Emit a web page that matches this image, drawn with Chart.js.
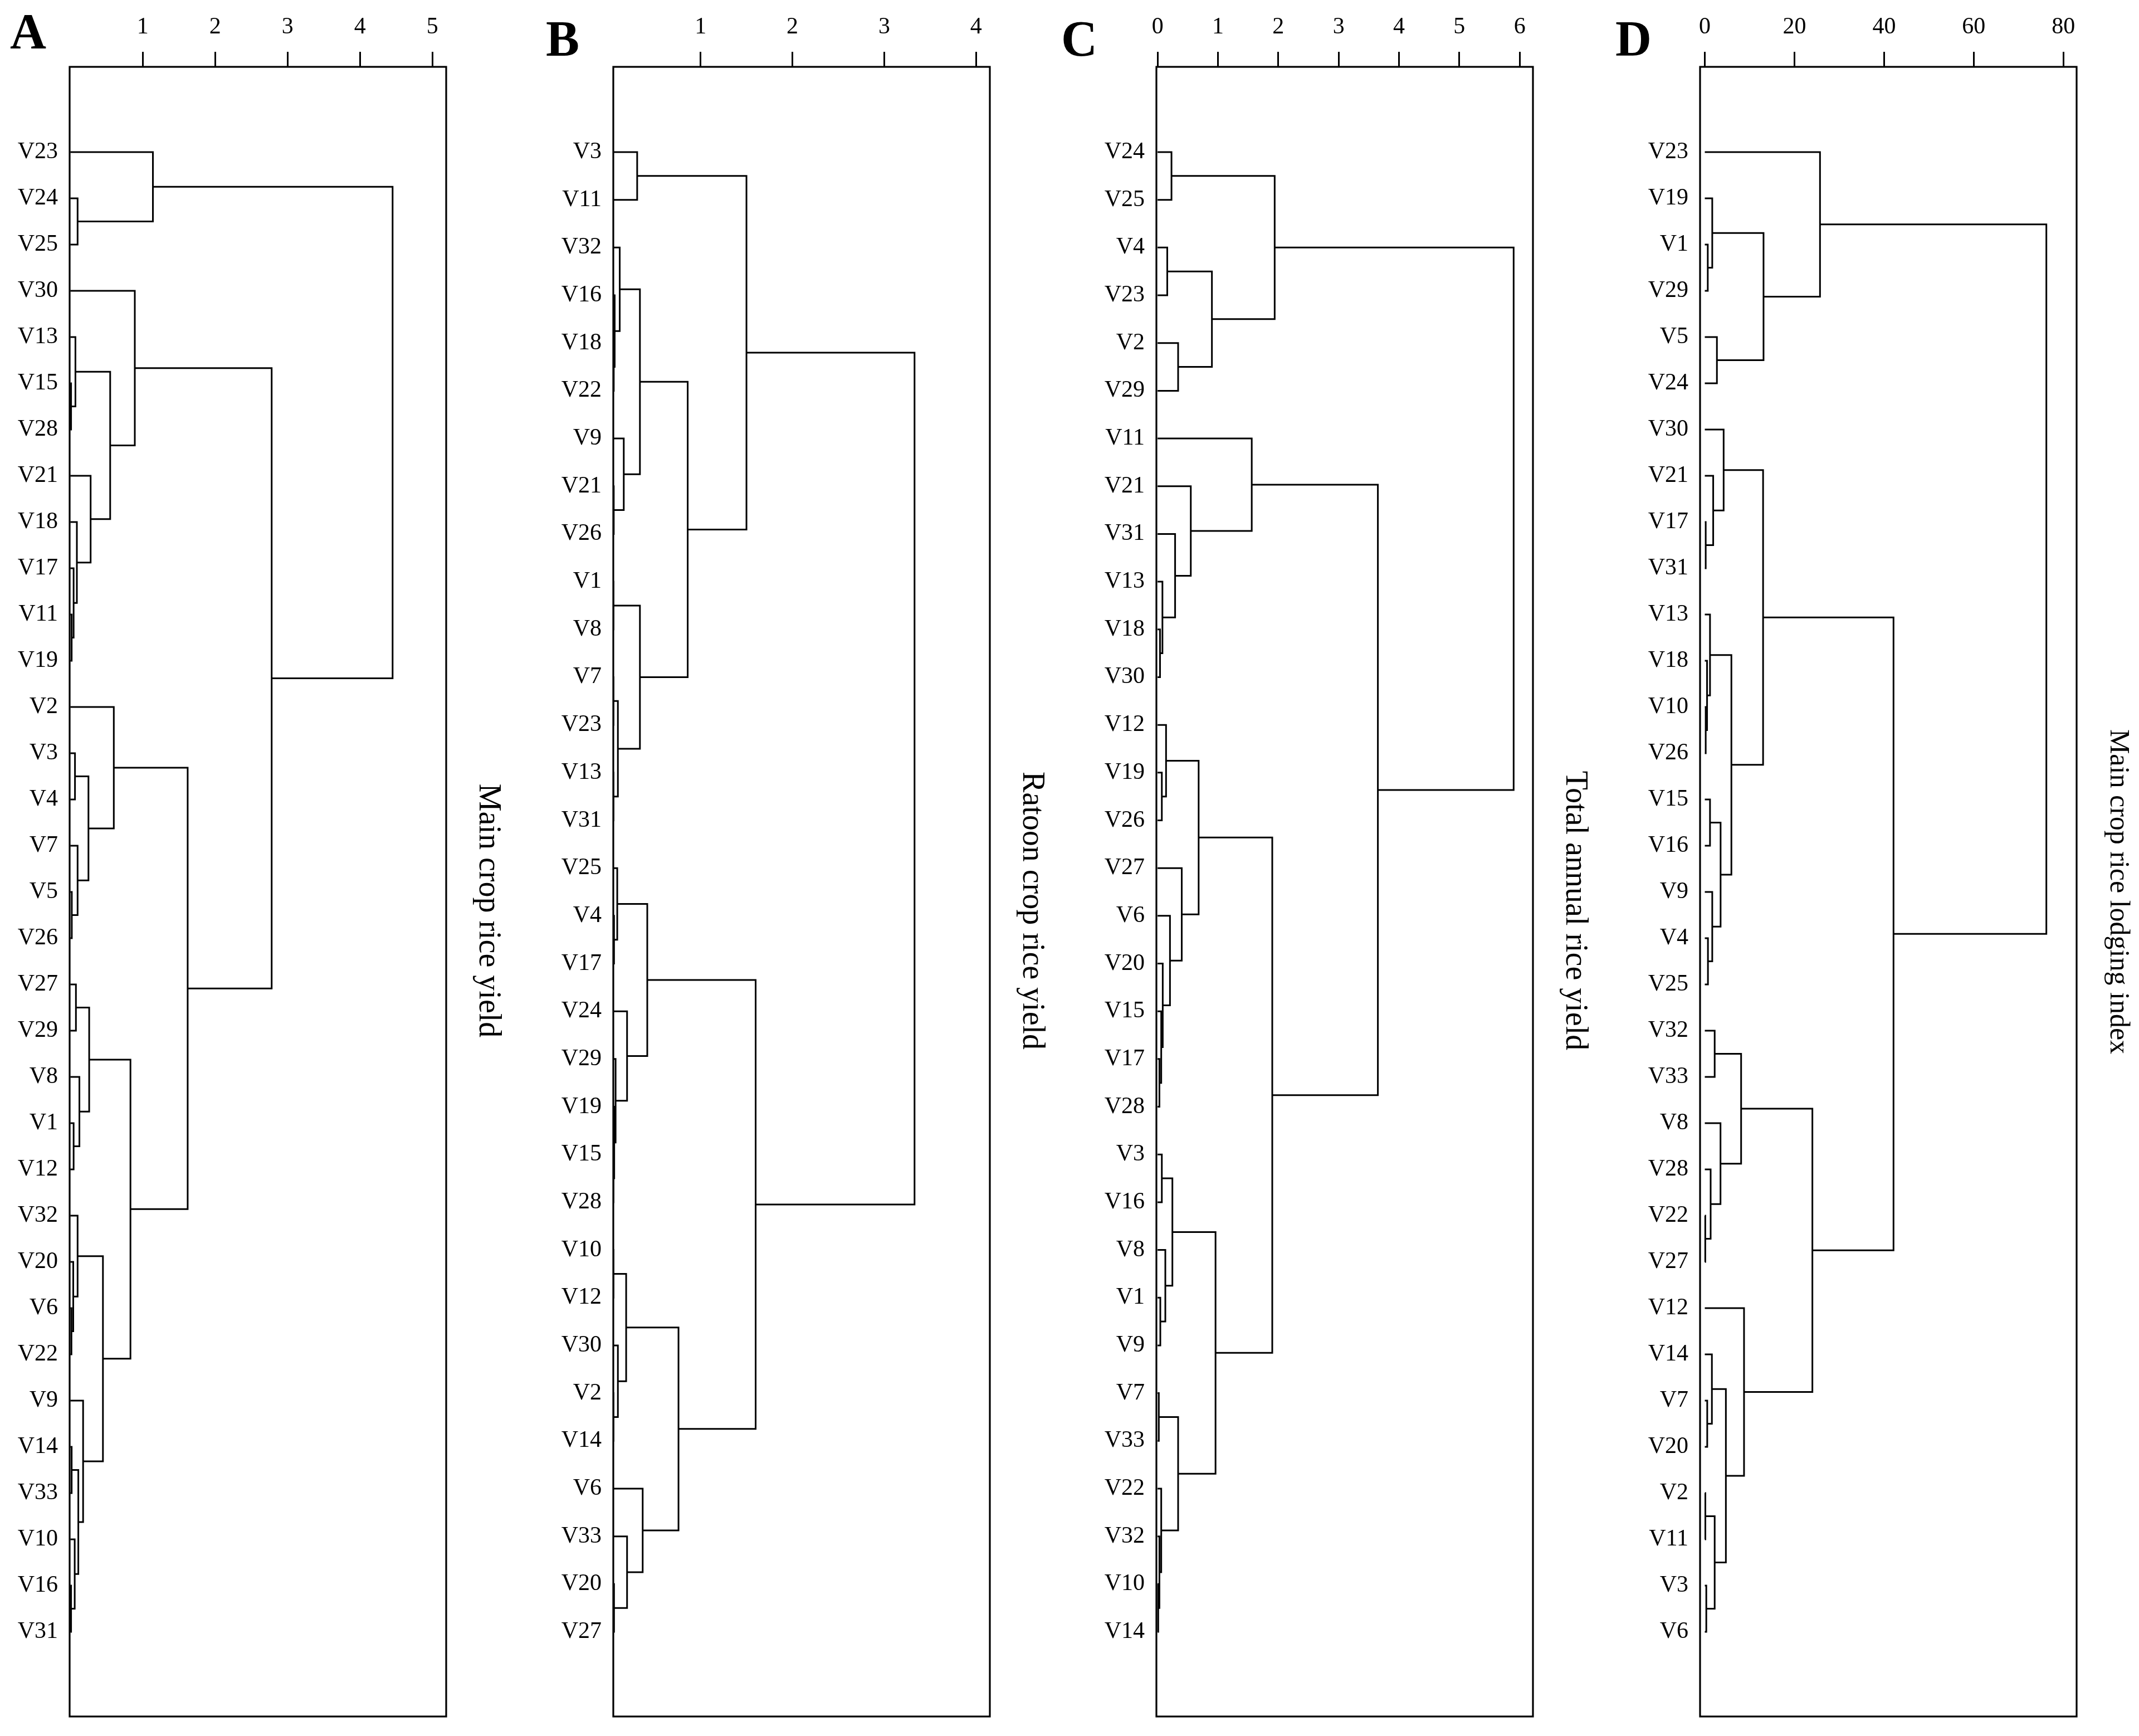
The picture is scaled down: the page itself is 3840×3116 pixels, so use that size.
<!DOCTYPE html>
<html>
<head>
<meta charset="utf-8">
<script src="https://cdn.jsdelivr.net/npm/chart.js@4.4.1/dist/chart.umd.min.js"></script>
<style>
  body { margin: 0; background: #fff; width: 3840px; height: 3116px; position: relative; overflow: hidden; }
  canvas { position: absolute; top: 0; }
  .tag { position: absolute; font: bold 90px "Liberation Serif", "Times New Roman", serif; line-height: 90px; color: #000; }
</style>
</head>
<body>
<div class="tag" style="left:18px;top:12px">A</div>
<div class="tag" style="left:980px;top:25px">B</div>
<div class="tag" style="left:1905px;top:25px">C</div>
<div class="tag" style="left:2900px;top:25px">D</div>
<canvas id="chartA" height="3116" style="left:0px"></canvas>
<canvas id="chartB" height="3116" style="left:976px"></canvas>
<canvas id="chartC" height="3116" style="left:1951px"></canvas>
<canvas id="chartD" height="3116" style="left:2927px"></canvas>
<script>
//leaf order of each dendrogram, top to bottom
var leavesA = ['V23','V24','V25','V30','V13','V15','V28','V21','V18','V17','V11','V19','V2','V3','V4','V7','V5','V26',
  'V27','V29','V8','V1','V12','V32','V20','V6','V22','V9','V14','V33','V10','V16','V31'];
var leavesB = ['V3','V11','V32','V16','V18','V22','V9','V21','V26','V1','V8','V7','V23','V13','V31','V25','V4','V17',
  'V24','V29','V19','V15','V28','V10','V12','V30','V2','V14','V6','V33','V20','V27'];
var leavesC = ['V24','V25','V4','V23','V2','V29','V11','V21','V31','V13','V18','V30','V12','V19','V26','V27','V6','V20',
  'V15','V17','V28','V3','V16','V8','V1','V9','V7','V33','V22','V32','V10','V14'];
var leavesD = ['V23','V19','V1','V29','V5','V24','V30','V21','V17','V31','V13','V18','V10','V26','V15','V16','V9','V4',
  'V25','V32','V33','V8','V28','V22','V27','V12','V14','V7','V20','V2','V11','V3','V6'];

//merges: [left, right, distance] - a number points to an earlier merge of the same tree
var mergesA = [
  ['V11','V19',0.018], ['V17',0,0.045], ['V18',1,0.09], ['V21',2,0.28], ['V15','V28',0.01], ['V13',4,0.07],
  [5,3,0.55], ['V30',6,0.89], ['V24','V25',0.10], ['V23',8,1.14], ['V3','V4',0.064], ['V5','V26',0.02],
  ['V7',11,0.10], [10,12,0.25], ['V2',13,0.60], ['V27','V29',0.077], ['V1','V12',0.045], ['V8',16,0.125],
  [15,17,0.26], ['V6','V22',0.015], ['V20',19,0.04], ['V32',20,0.10], ['V14','V33',0.018], ['V16','V31',0.01],
  ['V10',23,0.06], [22,24,0.11], ['V9',25,0.176], [21,26,0.45], [18,27,0.83], [14,28,1.62], [7,29,2.78], [9,30,4.45]
];
var mergesB = [
  ['V18','V22',0.055], ['V16',0,0.065], ['V32',1,0.12], ['V21','V26',0.055], ['V9',3,0.164], [2,4,0.34],
  ['V1','V8',0.052], ['V7','V23',0.052], ['V13','V31',0.052], [7,8,0.10], [6,9,0.34], [5,10,0.86],
  ['V3','V11',0.31], [12,11,1.50], ['V4','V17',0.058], ['V25',14,0.093], ['V15','V28',0.052], ['V19',16,0.06],
  ['V29',17,0.075], ['V24',18,0.20], [15,19,0.42], ['V10','V12',0.052], ['V2','V14',0.052], ['V30',22,0.10],
  [21,23,0.19], ['V20','V27',0.058], ['V33',25,0.20], ['V6',26,0.37], [24,27,0.76], [20,28,1.60], [13,29,3.33]
];
var mergesC = [
  ['V24','V25',0.23], ['V4','V23',0.16], ['V2','V29',0.34], [1,2,0.90], [0,3,1.94], ['V18','V30',0.04],
  ['V13',5,0.08], ['V31',6,0.29], ['V21',7,0.55], ['V11',8,1.56], ['V19','V26',0.07], ['V12',10,0.14],
  ['V17','V28',0.03], ['V15',12,0.06], ['V20',13,0.085], ['V6',14,0.205], ['V27',15,0.40], [11,16,0.68],
  ['V3','V16',0.07], ['V1','V9',0.045], ['V8',19,0.128], [18,20,0.245], ['V7','V33',0.02], ['V10','V14',0.01],
  ['V32',23,0.03], ['V22',24,0.06], [22,25,0.34], [21,26,0.96], [17,27,1.90], [9,28,3.65], [4,29,5.90]
];
var mergesD = [
  ['V1','V29',0.66], ['V19',0,1.66], ['V5','V24',2.7], [1,2,13.1], ['V23',3,25.7], ['V17','V31',0.2],
  ['V21',5,1.87], ['V30',6,4.2], ['V10','V26',0.2], ['V18',8,0.5], ['V13',9,1.16], ['V15','V16',1.16],
  ['V4','V25',0.7], ['V9',12,1.66], [11,13,3.52], [10,14,5.93], [7,15,13.0], ['V32','V33',2.2],
  ['V22','V27',0.1], ['V28',18,1.3], ['V8',19,3.5], [17,20,8.1], ['V7','V20',0.54], ['V14',22,1.58],
  ['V2','V11',0.12], ['V3','V6',0.33], [24,25,2.2], [23,26,4.7], ['V12',27,8.75], [21,28,24.0],
  [16,29,42.1], [4,30,76.2]
];

//distance axis tick labels
var ticksA = [1, 2, 3, 4, 5];
var ticksB = [1, 2, 3, 4];
var ticksC = [0, 1, 2, 3, 4, 5, 6];
var ticksD = [0, 20, 40, 60, 80];

var titleA = 'Main crop rice yield';
var titleB = 'Ratoon crop rice yield';
var titleC = 'Total annual rice yield';
var titleD = 'Main crop rice lodging index';

var serif = '"Liberation Serif", "Times New Roman", serif';

//one bracket (two horizontals joined by a vertical) per merge
function buildLinks(leaves, merges) {
  var nodes = [];
  function node(ref) {
    if (typeof ref === 'string') {
      if (leaves.indexOf(ref) < 0) console.log('missing leaf ' + ref);
      return { y: leaves.indexOf(ref), h: 0 };
    }
    return nodes[ref];
  }
  return merges.map(function (m) {
    var a = node(m[0]);
    var b = node(m[1]);
    nodes.push({ y: (a.y + b.y) / 2, h: m[2] });
    return {
      data: [{ x: a.h, y: a.y }, { x: m[2], y: a.y }, { x: m[2], y: b.y }, { x: b.h, y: b.y }],
      borderColor: '#000',
      borderWidth: 3,
      borderJoinStyle: 'miter',
      borderCapStyle: 'butt',
      pointRadius: 0,
      tension: 0,
      fill: false
    };
  });
}

//frame round the plot area
var boxPlugin = {
  id: 'box',
  afterDatasetsDraw: function (chart) {
    var a = chart.chartArea;
    var ctx = chart.ctx;
    ctx.save();
    ctx.strokeStyle = '#000';
    ctx.lineWidth = 3.2;
    ctx.strokeRect(a.left, a.top, a.right - a.left, a.bottom - a.top);
    ctx.restore();
  }
};

//the side titles of A-C sit a little below the middle of the frame
var titleShift = {
  id: 'titleShift',
  afterLayout: function (chart, args, opts) {
    var s = chart.scales.t;
    s.top += opts.dy;
    s.bottom += opts.dy;
  }
};

function makeChart(id, leaves, merges, ticks, xMin, xMax, title, titleSize, titleDy) {
  var span = leaves.length - 1;
  //leaves span the same height in every panel, with the same margin to the frame
  var yMin = -span * 153 / 2656;
  var yMax = span + span * 152 / 2656;
  //title centre sits 74px right of the frame
  var titleW = Math.round(74 + titleSize * 1.2 / 2);
  var canvas = document.getElementById(id);
  canvas.width = 125 + 676 + titleW;
  return new Chart(canvas, {
    type: 'line',
    data: { datasets: buildLinks(leaves, merges) },
    options: {
      responsive: false,
      animation: false,
      devicePixelRatio: 1,
      events: [],
      layout: { padding: { top: 0, right: 0, bottom: 35, left: 0 } },
      plugins: { legend: { display: false }, tooltip: { enabled: false }, titleShift: { dy: titleDy } },
      scales: {
        x: {
          type: 'linear',
          position: 'top',
          min: xMin,
          max: xMax,
          afterBuildTicks: function (s) { s.ticks = ticks.map(function (v) { return { value: v }; }); },
          afterFit: function (s) { s.height = 120; s.paddingLeft = 0; s.paddingRight = 0; },
          grid: { display: true, drawOnChartArea: false, drawTicks: true, tickLength: 27, tickWidth: 3, tickColor: '#000', color: '#000', lineWidth: 3 },
          border: { display: false },
          ticks: { color: '#000', padding: 19, autoSkip: false, maxRotation: 0, font: { family: serif, size: 42 },
            callback: function (v) { return String(v); } }
        },
        y: {
          type: 'linear',
          position: 'left',
          reverse: true,
          min: yMin,
          max: yMax,
          afterBuildTicks: function (s) { s.ticks = leaves.map(function (l, i) { return { value: i }; }); },
          afterFit: function (s) { s.width = 125; s.paddingTop = 0; s.paddingBottom = 0; },
          grid: { display: false, drawTicks: false },
          border: { display: false },
          ticks: { color: '#000', padding: 21, autoSkip: false, font: { family: serif, size: 42 },
            callback: function (v) { return leaves[v]; } }
        },
        t: {
          type: 'linear',
          position: 'right',
          afterFit: function (s) { s.width = titleW; s.paddingTop = 0; s.paddingBottom = 0; },
          grid: { display: false, drawTicks: false },
          border: { display: false },
          ticks: { display: false },
          title: { display: true, text: title, color: '#000', padding: 0, font: { family: serif, size: titleSize } }
        }
      }
    },
    plugins: [boxPlugin, titleShift]
  });
}

makeChart('chartA', leavesA, mergesA, ticksA, -0.01, 5.19, titleA, 56, 34);
makeChart('chartB', leavesB, mergesB, ticksB, 0.05, 4.15, titleB, 56, 34);
makeChart('chartC', leavesC, mergesC, ticksC, -0.02, 6.22, titleC, 56, 34);
makeChart('chartD', leavesD, mergesD, ticksD, -1.06, 82.95, titleD, 50, 0);
</script>
</body>
</html>
